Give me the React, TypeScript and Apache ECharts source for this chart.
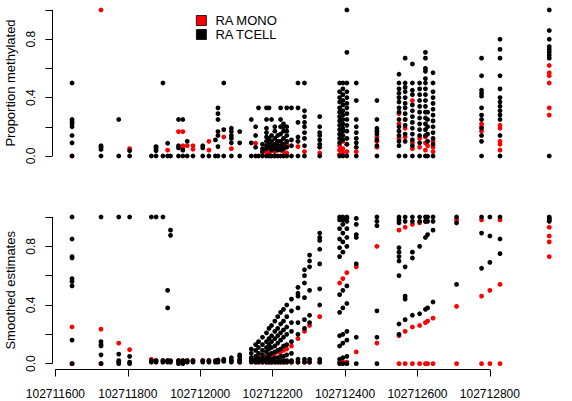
import React, { useEffect, useRef } from "react";
import * as echarts from "echarts";

// CpG genomic positions
const cpgPositions: number[] = [
  102711646, 102711726, 102711775, 102711805, 102711865, 102711878, 102711897, 102711910,
  102711918, 102711940, 102711952, 102711964, 102711980, 102712007, 102712024, 102712042,
  102712049, 102712065, 102712086, 102712109, 102712141, 102712153, 102712161, 102712172,
  102712183, 102712190, 102712197, 102712206, 102712214, 102712222, 102712230, 102712239,
  102712252, 102712270, 102712288, 102712302, 102712330, 102712385, 102712394, 102712405,
  102712431, 102712488, 102712549, 102712566, 102712586, 102712606, 102712622, 102712628,
  102712643, 102712708, 102712777, 102712800, 102712828, 102712964,
];

// Proportion methylated, RA TCELL samples, per CpG
const rawTcell: number[][] = [
  [0.5, 0.25, 0.235, 0.22, 0.2, 0.14, 0.09, 0], [0.07, 0.06, 0.045, 0], [0.25, 0], [0.036, 0],
  [0], [0.064, 0.05, 0.036, 0], [0.5, 0], [0.087, 0],
  [0], [0.25, 0.07, 0.055, 0], [0.25, 0.04, 0], [0.1, 0], [0], [0.07, 0.055, 0], [0], [0.11, 0],
  [0.33, 0.29, 0.25, 0.167, 0.14, 0.064, 0], [0.5, 0.18, 0], [0.19, 0.167, 0.14, 0.12, 0.09, 0], [0.167, 0.09, 0],
  [0.25, 0.09, 0], [0.2, 0.14, 0.06, 0], [0.33, 0], [0.08, 0.05, 0.03, 0],
  [0.33, 0.25, 0.19, 0.16, 0.13, 0.1, 0.07, 0.05, 0], [0.33, 0.12, 0.1, 0.08, 0.06, 0], [0.25, 0.14, 0.1, 0.07, 0.04, 0], [0.2, 0.17, 0.12, 0.08, 0.05, 0],
  [0.14, 0.1, 0.07, 0.04, 0], [0.33, 0.25, 0.2, 0.15, 0.1, 0.07, 0.04, 0], [0.22, 0.2, 0.17, 0.12, 0.08, 0.05, 0], [0.33, 0.2, 0.17, 0.14, 0.1, 0.06, 0],
  [0.33, 0.11, 0.07, 0], [0.5, 0.33, 0.23, 0.13, 0.1, 0], [0.5, 0.31, 0.27, 0.23, 0.2, 0.16, 0.12, 0.07, 0], [],
  [0.27, 0.2, 0.16, 0.14, 0.11, 0.08, 0.06, 0],
  [0.5, 0.44, 0.4, 0.37, 0.33, 0.3, 0.27, 0.24, 0.21, 0.18, 0.15, 0.12, 0.09, 0],
  [0.5, 0.46, 0.42, 0.38, 0.35, 0.31, 0.28, 0.25, 0.22, 0.19, 0.17, 0.14, 0.11, 0],
  [1, 0.71, 0.5, 0.44, 0.4, 0.36, 0.33, 0.29, 0.25, 0.21, 0.17, 0.12, 0.08, 0],
  [0.5, 0.38, 0.25, 0.2, 0.16, 0.12, 0.09, 0.06, 0],
  [0.38, 0.25, 0.19, 0.17, 0.15, 0.11, 0.07, 0],
  [0.56, 0.5, 0.46, 0.43, 0.4, 0.37, 0.33, 0.3, 0.25, 0.2, 0.17, 0.14, 0.1, 0.07, 0],
  [0.67, 0.5, 0.47, 0.44, 0.4, 0.36, 0.33, 0.29, 0.25, 0.21, 0.15, 0.1, 0],
  [0.63, 0.5, 0.45, 0.42, 0.35, 0.31, 0.27, 0.23, 0.19, 0.15, 0.11, 0.07, 0],
  [0.5, 0.46, 0.42, 0.38, 0.34, 0.3, 0.26, 0.22, 0.18, 0.14, 0.09, 0],
  [0.71, 0.67, 0.6, 0.58, 0.53, 0.5, 0.46, 0.42, 0.38, 0.34, 0.3, 0.26, 0.22, 0.18, 0.14, 0],
  [0.3, 0.25, 0.2, 0.15, 0.1, 0],
  [0.57, 0.5, 0.44, 0.4, 0.36, 0.32, 0.28, 0.24, 0.2, 0.16, 0.12, 0.08, 0],
  [],
  [0.67, 0.55, 0.45, 0.43, 0.41, 0.33, 0.28, 0.25, 0.19, 0.14, 0.1, 0],
  [],
  [0.8, 0.73, 0.67, 0.55, 0.46, 0.4, 0.37, 0.34, 0.31, 0.28, 0.25, 0.14, 0],
  [1, 0.86, 0.8, 0.75, 0.73, 0.71, 0.69, 0.67, 0],
];

// Proportion methylated, RA MONO samples, per CpG
const rawMono: number[][] = [
  [0], [1], [], [0.05], [], [0.06], [], [0.04],
  [], [0.167], [0.167, 0.07, 0.05], [0.07], [0.07, 0.046], [], [0.1, 0.04], [],
  [], [0.13], [0.05], [],
  [], [0.087], [], [0.02],
  [0.03], [0.02], [0.04], [0.06, 0.03],
  [0.1], [0.05], [0.03], [0.08, 0.02],
  [], [0.064], [0.03], [],
  [0.02],
  [0.07, 0.04, 0.01], [0.1, 0.05, 0.02], [0.08, 0.03],
  [0.03], [0.13, 0.1, 0.06],
  [0.29, 0.22, 0.12], [0.25, 0.19, 0.13], [0.38, 0.09, 0.05], [0.12, 0.06],
  [0.13, 0.09, 0.04], [0.07], [0.1, 0.06, 0.03],
  [], [0.22, 0.2, 0.17], [], [0.21, 0.19, 0.1, 0.08, 0.04],
  [0.62, 0.57, 0.55, 0.5, 0.33, 0.28],
];

// Smoothed estimates, RA TCELL samples, per CpG
const smoothTcell: number[][] = [
  [1, 0.85, 0.73, 0.72, 0.58, 0.56, 0.53, 0.16, 0], [1, 0.15, 0.13, 0.12, 0.06, 0], [1, 0.065, 0.02, 0.01, 0], [1, 0.05, 0.01, 0],
  [1, 0.02, 0.01], [1, 0.02, 0.01], [1, 0.02, 0.01], [0.5, 0.38, 0.02, 0.01],
  [0.91, 0.875, 0.02, 0.01], [0.02, 0.01, 0], [0.02, 0.01, 0], [0.02, 0.01], [0.02, 0.01], [0.02, 0.01], [0.02, 0.01], [0.02, 0.01],
  [0.025, 0.01], [0.03, 0.015], [0.04, 0.02, 0.01], [0.06, 0.05, 0.03, 0.02, 0.01],
  [0.1, 0.07, 0.04, 0.02, 0.01], [0.13, 0.09, 0.05, 0.03, 0.02, 0.01], [0.15, 0.11, 0.07, 0.04, 0.02, 0.01], [0.18, 0.13, 0.09, 0.06, 0.03, 0.02, 0.01],
  [0.21, 0.15, 0.11, 0.08, 0.04, 0.02, 0.01], [0.24, 0.17, 0.13, 0.1, 0.06, 0.03, 0.01], [0.26, 0.19, 0.15, 0.11, 0.07, 0.03, 0.01], [0.29, 0.22, 0.17, 0.12, 0.08, 0.04, 0.01],
  [0.32, 0.24, 0.19, 0.14, 0.09, 0.04, 0.01], [0.35, 0.27, 0.21, 0.16, 0.1, 0.05, 0.02, 0.01], [0.37, 0.29, 0.23, 0.18, 0.12, 0.05, 0.02, 0.01], [0.4, 0.32, 0.25, 0.2, 0.13, 0.06, 0.02, 0.01],
  [0.44, 0.36, 0.28, 0.22, 0.15, 0.07, 0.02, 0.01], [0.52, 0.48, 0.46, 0.38, 0.28, 0.2, 0.03, 0.01], [0.64, 0.6, 0.55, 0.45, 0.3, 0.24, 0.03, 0.01], [0.74, 0.7, 0.66, 0.5, 0.33, 0.28, 0.03, 0.01],
  [0.89, 0.86, 0.84, 0.78, 0.68, 0.51, 0.4, 0.03, 0.01],
  [1, 0.98, 0.92, 0.85, 0.79, 0.73, 0.47, 0.35, 0.19, 0.12, 0.03, 0],
  [1, 0.98, 0.95, 0.89, 0.83, 0.76, 0.5, 0.38, 0.2, 0.14, 0.04, 0],
  [1, 0.99, 0.97, 0.92, 0.86, 0.8, 0.53, 0.41, 0.22, 0.16, 0.05, 0],
  [0.99, 0.95, 0.88, 0.86, 0.68, 0.18, 0], [1, 0.97, 0.94, 0.36, 0.18, 0],
  [1, 0.98, 0.96, 0.79, 0.76, 0.73, 0.7, 0.6, 0.27, 0.2], [1, 0.97, 0.66, 0.46, 0.44, 0.3], [1, 0.97, 0.76, 0.72, 0.33], [1, 0.97, 0.8, 0.34],
  [1, 0.97, 0.86, 0.37], [1, 0.97, 0.88, 0.38], [1, 0.97, 0.91, 0.42],
  [1, 0.96, 0.54], [1, 0.89, 0.65], [1, 0.87, 0.69], [1, 0.85, 0.75],
  [1, 0.99, 0.98, 0.97],
];

// Smoothed estimates, RA MONO samples, per CpG
const smoothMono: number[][] = [
  [0.25, 0], [0.235, 0], [0.14], [0.095],
  [0.03], [0.02], [0.02], [0.02],
  [], [0.02], [0.02], [0.02], [0.02], [0.02], [0.02], [],
  [0.02], [0.02], [0.02], [0.01],
  [0.02], [0.03, 0.01], [0.03, 0.01], [0.04, 0.01],
  [0.05, 0.01], [0.05, 0.01], [0.06, 0.01], [0.07, 0.01],
  [0.08, 0.01], [0.08, 0.01], [0.09, 0.01], [0.1, 0.01],
  [0.12, 0.01], [0.17, 0.01], [0.22, 0.01], [0.26, 0.01],
  [0.32, 0.01],
  [0.55, 0.01], [0.58, 0.01], [0.62, 0.01],
  [0.66, 0.08], [0.8, 0.14],
  [0.91, 0.19, 0], [0.93, 0.22, 0], [0.95, 0.25, 0], [0.96, 0.26, 0],
  [0.97, 0.28, 0], [0.29, 0], [0.31, 0],
  [0.98, 0.39, 0], [0.98, 0.46, 0], [0.5, 0], [0.98, 0.54, 0],
  [0.93, 0.87, 0.83, 0.73],
];

const xTicks = [102711600, 102711800, 102712000, 102712200, 102712400, 102712600, 102712800];
const yTicks = [0, 0.2, 0.4, 0.6, 0.8, 1];
const yLabelValues = [0, 0.4, 0.8];
const seriesNames = ["RA MONO", "RA TCELL"];
const seriesColors = ["#ff0000", "#000000"];

const X_MIN = 102711592;
const X_MAX = 102713013;
const Y_MIN = -0.04;
const Y_MAX = 1.04;
const FONT = "'Liberation Sans', Arial, Helvetica, sans-serif";

function toPoints(values: number[][]): [number, number][] {
  const pts: [number, number][] = [];
  values.forEach((vals, i) => vals.forEach((v) => pts.push([cpgPositions[i], v])));
  return pts;
}

export default function App() {
  const ref = useRef<HTMLDivElement>(null);
  useEffect(() => {
    if (!ref.current) return;
    const chart = echarts.init(ref.current, undefined, { renderer: "svg" });

    const yAxisBase = (gridIndex: number, name: string) => ({
      gridIndex,
      type: "value",
      min: Y_MIN,
      max: Y_MAX,
      name,
      nameLocation: "middle",
      nameRotate: 90,
      nameGap: 34,
      nameTextStyle: { fontSize: 13, color: "#000", fontFamily: FONT },
      axisLine: { show: false, onZero: false },
      splitLine: { show: false },
      axisTick: { show: true, length: 7, customValues: yTicks, lineStyle: { color: "#000", width: 1 } },
      axisLabel: {
        show: true,
        customValues: yLabelValues,
        rotate: 90,
        margin: 16,
        fontSize: 12,
        color: "#000",
        fontFamily: FONT,
        formatter: (v: number) => v.toFixed(1),
      },
    });

    // axis line segments drawn in data space through the library's coordinate system
    const axisSegments = (axis: number, segs: number[][]) => ({
      type: "custom",
      name: "axis-line",
      xAxisIndex: axis,
      yAxisIndex: axis,
      data: segs,
      dimensions: ["x1", "y1", "x2", "y2"],
      encode: { x: [0, 2], y: [1, 3] },
      silent: true,
      clip: false,
      z: 1,
      renderItem: (_params: any, api: any) => {
        const p1 = api.coord([api.value(0), api.value(1)]);
        const p2 = api.coord([api.value(2), api.value(3)]);
        return {
          type: "line",
          shape: { x1: p1[0], y1: p1[1], x2: p2[0], y2: p2[1] },
          style: { stroke: "#000", lineWidth: 1 },
        };
      },
    });

    const scatter = (name: string, color: string, axis: number, data: [number, number][]) => ({
      type: "scatter",
      name,
      xAxisIndex: axis,
      yAxisIndex: axis,
      data,
      symbol: "circle",
      symbolSize: 4.8,
      itemStyle: { color, opacity: 1 },
      clip: false,
      emphasis: { disabled: true },
      z: 2,
    });

    const gridBase = { left: 52.5, right: 5, containLabel: false, outerBoundsMode: "none" };

    chart.setOption({
      animation: false,
      backgroundColor: "#ffffff",
      textStyle: { fontFamily: FONT },
      legend: {
        data: seriesNames,
        orient: "vertical",
        left: 191,
        top: 9,
        icon: "rect",
        itemWidth: 10,
        itemHeight: 10,
        itemGap: 1,
        selectedMode: false,
        itemStyle: { borderColor: "#000", borderWidth: 0.8 },
        textStyle: { fontSize: 13, color: "#000", fontFamily: FONT, padding: [0, 0, 0, 4] },
      },
      grid: [
        { ...gridBase, top: 4.2, height: 157.6 },
        { ...gridBase, top: 211.1, height: 158.4 },
      ],
      xAxis: [
        { gridIndex: 0, type: "value", min: X_MIN, max: X_MAX, show: false, axisLine: { onZero: false } },
        {
          gridIndex: 1,
          type: "value",
          min: X_MIN,
          max: X_MAX,
          axisLine: { show: false, onZero: false },
          splitLine: { show: false },
          axisTick: { show: true, length: 7, customValues: xTicks, lineStyle: { color: "#000", width: 1 } },
          axisLabel: {
            show: true,
            customValues: xTicks,
            margin: 18,
            fontSize: 12,
            color: "#000",
            fontFamily: FONT,
            formatter: (v: number) => String(v),
          },
        },
      ],
      yAxis: [yAxisBase(0, "Proportion methylated"), yAxisBase(1, "Smoothed estimates")],
      series: [
        axisSegments(0, [[X_MIN, 0, X_MIN, 1]]),
        axisSegments(1, [
          [X_MIN, 0, X_MIN, 1],
          [xTicks[0], Y_MIN, xTicks[xTicks.length - 1], Y_MIN],
        ]),
        scatter(seriesNames[0], seriesColors[0], 0, toPoints(rawMono)),
        scatter(seriesNames[1], seriesColors[1], 0, toPoints(rawTcell)),
        scatter(seriesNames[0], seriesColors[0], 1, toPoints(smoothMono)),
        scatter(seriesNames[1], seriesColors[1], 1, toPoints(smoothTcell)),
      ],
    });
    return () => chart.dispose();
  }, []);
  return (
    <div
      ref={ref}
      style={{ position: "fixed", left: 0, top: 0, width: 572, height: 401, background: "#fff" }}
    />
  );
}
